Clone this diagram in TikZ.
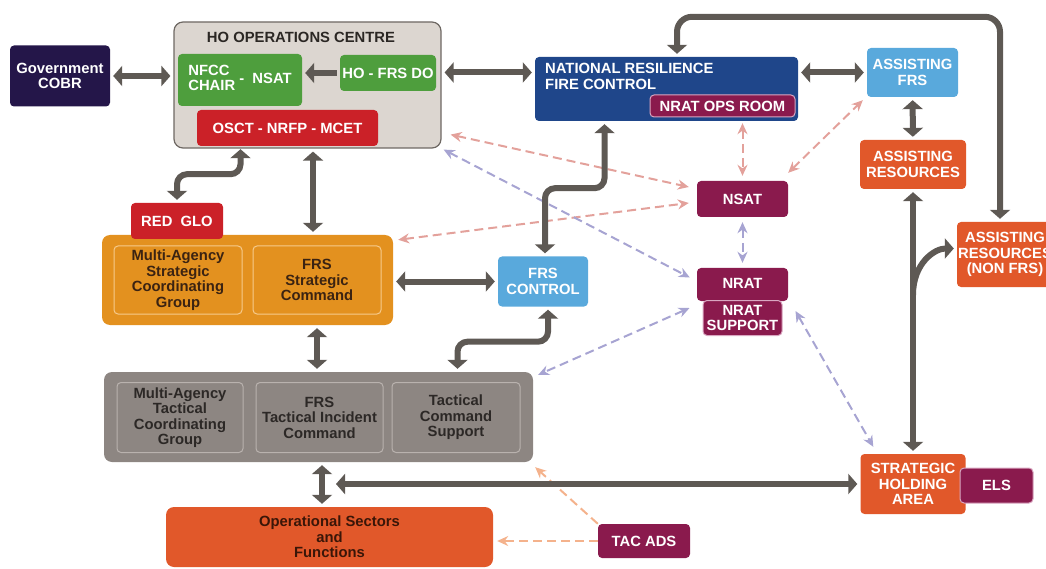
\documentclass[tikz,border=0pt]{standalone}
\usepackage{fontspec}
\setmainfont{Liberation Sans}
\usetikzlibrary{arrows.meta}
\definecolor{cobrblue}{HTML}{241649}
\definecolor{hogrey}{HTML}{DCD6D0}
\definecolor{hoedge}{HTML}{6E6863}
\definecolor{hotext}{HTML}{2B2724}
\definecolor{hogreen}{HTML}{4E9E3D}
\definecolor{hored}{HTML}{CB2128}
\definecolor{nrblue}{HTML}{1F468A}
\definecolor{nrmaroon}{HTML}{8A1A4D}
\definecolor{maroonedge}{HTML}{D9A6C1}
\definecolor{skyblue}{HTML}{59A9DC}
\definecolor{resorange}{HTML}{E1582A}
\definecolor{stratorange}{HTML}{E3911F}
\definecolor{stratedge}{HTML}{F6CA8C}
\definecolor{strattext}{HTML}{3B2312}
\definecolor{tactgrey}{HTML}{8D8682}
\definecolor{tactedge}{HTML}{B9B2AE}
\definecolor{tacttext}{HTML}{2C2826}
\definecolor{opstext}{HTML}{3A1608}
\definecolor{linkgrey}{HTML}{5E5954}
\definecolor{pinkdash}{HTML}{E3A19B}
\definecolor{lavdash}{HTML}{A7A4D2}
\definecolor{peachdash}{HTML}{F4B28C}

\begin{document}
\begin{tikzpicture}[x=1pt, y=-1pt,
        box/.style={rounded corners=4pt, inner sep=0pt, align=center, text=white,
            font=\bfseries\fontsize{14.8}{15.5}\selectfont},
        inbox/.style={box, draw=#1, line width=1pt},
        link/.style={draw=linkgrey, line width=6pt, rounded corners=10pt,
            shorten <=3pt, shorten >=3pt,
            {Triangle[width=20pt,length=9pt]}-{Triangle[width=20pt,length=9pt]}},
        onelink/.style={link, -{Triangle[width=20pt,length=9pt]}},
        dlink/.style={draw=#1, line width=2pt, dash pattern=on 9pt off 5pt,
            {Stealth[length=11pt,width=10pt]}-{Stealth[length=11pt,width=10pt]}},
        donelink/.style={dlink=#1, -{Stealth[length=11pt,width=10pt]}}]
                \useasboundingbox (0,0) rectangle (1046,569);

                \node[box, fill=cobrblue, minimum width=100pt, minimum height=61pt] (cobr) at (60,76) {Government\\COBR};
                \node[box, fill=hogrey, draw=hoedge, line width=1.2pt, rounded corners=9pt,
                    minimum width=267pt, minimum height=126pt] (hoc) at (307.5,85) {};
                \node[box, text=hotext] (hotitle) at (301,37) {HO OPERATIONS CENTRE};
                \node[box, fill=hogreen, minimum width=124pt, minimum height=52pt] (nfcc) at (240,80)
                    {\begin{tabular}{@{}l@{}}NFCC\\CHAIR\end{tabular}\ -\ \ NSAT};
                \node[box, fill=hogreen, minimum width=96pt, minimum height=36pt] (hofrs) at (388,73) {HO - FRS DO};
                \node[box, fill=hored, minimum width=181pt, minimum height=36pt] (osct) at (287.5,128) {OSCT - NRFP - MCET};

                \node[box, fill=nrblue, minimum width=263pt, minimum height=64pt] (nrfc) at (666.5,89) {};
                \node[box, align=left, anchor=north west] (nrfctitle) at (545,63) {NATIONAL RESILIENCE\\FIRE CONTROL};
                \node[inbox=maroonedge, fill=nrmaroon, minimum width=145pt, minimum height=22pt] (nratops) at (722.5,106) {NRAT OPS ROOM};

                \node[box, fill=skyblue, minimum width=91pt, minimum height=49pt] (afrs) at (912.5,72.5) {ASSISTING\\FRS};
                \node[box, fill=resorange, minimum width=106pt, minimum height=49pt] (ares) at (913,164.5) {ASSISTING\\RESOURCES};
                \node[box, fill=resorange, minimum width=96pt, minimum height=65pt] (nonfrs) at (1005,254.5) {ASSISTING\\RESOURCES\\(NON FRS)};
                \node[box, fill=resorange, minimum width=105pt, minimum height=60pt] (sha) at (913,484) {STRATEGIC\\HOLDING\\AREA};
                \node[inbox=maroonedge, fill=nrmaroon, minimum width=73pt, minimum height=35pt] (els) at (996.5,485.5) {ELS};

                \node[box, fill=skyblue, minimum width=90pt, minimum height=50pt] (frsc) at (543,281.5) {FRS\\CONTROL};

                \node[box, fill=stratorange, rounded corners=8pt, minimum width=291pt, minimum height=90pt] (strat) at (247.5,280) {};
                \node[inbox=stratedge, text=strattext, minimum width=128pt, minimum height=68pt] (masc) at (178,280)
                    {Multi-Agency\\Strategic\\Coordinating\\Group};
                \node[inbox=stratedge, text=strattext, minimum width=128pt, minimum height=68pt] (fsc) at (317,280)
                    {FRS\\Strategic\\Command};
                \node[box, fill=hored, minimum width=92pt, minimum height=36pt] (redglo) at (177,221) {RED\ \ GLO};

                \node[box, fill=tactgrey, rounded corners=8pt, minimum width=429pt, minimum height=90pt] (tact) at (318.5,417) {};
                \node[inbox=tactedge, text=tacttext, minimum width=126pt, minimum height=70pt] (matc) at (180,417.5)
                    {Multi-Agency\\Tactical\\Coordinating\\Group};
                \node[inbox=tactedge, text=tacttext, minimum width=127pt, minimum height=70pt] (ftic) at (319.5,417.5)
                    {FRS\\Tactical Incident\\Command};
                \node[inbox=tactedge, text=tacttext, minimum width=128pt, minimum height=70pt] (tcs) at (456,417.5)
                    {Tactical\\Command\\Support};

                \node[box, fill=resorange, text=opstext, rounded corners=8pt, minimum width=327pt, minimum height=60pt] (ops) at (329.5,537)
                    {Operational Sectors\\and\\Functions};
                \node[box, fill=nrmaroon, minimum width=92pt, minimum height=34pt] (tacads) at (644,541) {TAC ADS};

                \node[box, fill=nrmaroon, minimum width=91pt, minimum height=36pt] (nsat) at (742.5,199) {NSAT};
                \node[box, fill=nrmaroon, minimum width=91pt, minimum height=33pt] (nrat) at (742.5,284.5) {\raisebox{3pt}{NRAT}};
                \node[inbox=maroonedge, fill=nrmaroon, minimum width=79pt, minimum height=35pt] (nratsup) at (742.5,318) {NRAT\\SUPPORT};

                \coordinate (opsjoin) at (333,484);

                \draw[dlink=pinkdash] ([xshift=9pt,yshift=14pt]hoc.south east) -- ([xshift=-8pt,yshift=12pt]nsat.west);
                \draw[dlink=pinkdash] ([xshift=5pt,yshift=-5pt]strat.north east) -- ([xshift=-8pt,yshift=-4pt]nsat.west);
                \draw[dlink=pinkdash, shorten <=2pt, shorten >=5pt] (nsat.north |- nrfc.south) -- (nsat.north);
                \draw[dlink=pinkdash] ([yshift=8pt]nsat.north east) -- ([xshift=-4pt,yshift=-3pt]afrs.south west);
                \draw[dlink=lavdash] ([xshift=2pt,yshift=-1pt]hoc.south east) -- ([xshift=-7pt,yshift=7pt]nrat.west);
                \draw[dlink=lavdash, shorten <=5pt, shorten >=5pt] (nsat.south) -- (nrat.north);
                \draw[dlink=lavdash] ([xshift=-13pt,yshift=10pt]nratsup.west) -- ([xshift=5pt,yshift=-3pt]tact.north east);
                \draw[dlink=lavdash] ([xshift=13pt,yshift=7pt]nratsup.east) -- ([xshift=13pt,yshift=7pt]sha.north west);
                \draw[donelink=peachdash] (tacads.north west) -- ([xshift=2pt,yshift=-5pt]tact.south east);
                \draw[donelink=peachdash] (tacads.west) -- ([xshift=4pt]tacads.west -| ops.east);

                \draw[link] (cobr.east) -- (cobr.east -| hoc.west);
                \draw[onelink] (hofrs.west) -- (hofrs.west -| nfcc.east);
                \draw[link] (hoc.east |- afrs) -- (nrfc.west |- afrs);
                \draw[link] (nrfc.east |- afrs) -- (afrs.west);
                \draw[link] (afrs) -- (ares);
                \draw[link, rounded corners=15pt] ([xshift=10.5pt]nrfc.north) -- ++(0,-40) -| ([xshift=-5pt]nonfrs.north);
                \draw[link] (ares) -- (sha);
                \draw[onelink, shorten <=0pt] (ares.south |- 0,295) .. controls +(0,-32) and +(-22,0) .. ([yshift=6pt]nonfrs.west);
                \draw[link] (sha.west) -- (opsjoin);
                \draw[link] ([xshift=-62pt]nrfc.south) -- ++(0,67) -| ([xshift=2pt]frsc.north);
                \draw[link] ([xshift=-47pt]osct.south) -- ++(0,28) -| (redglo.north);
                \draw[link] ([xshift=5.5pt]hoc.south) -- ([xshift=5.5pt]hoc.south |- strat.north);
                \draw[link] (strat.east |- frsc) -- (frsc.west);
                \draw[link] (fsc |- strat.south) -- (fsc |- tact.north);
                \draw[link] ([xshift=5pt]frsc.south) -- ++(0,35) -| ([xshift=139pt]tact.north);
                \draw[link] ([xshift=3.5pt]tact.south) -- ([xshift=3.5pt]tact.south |- ops.north);
            \end{tikzpicture}
\end{document}
